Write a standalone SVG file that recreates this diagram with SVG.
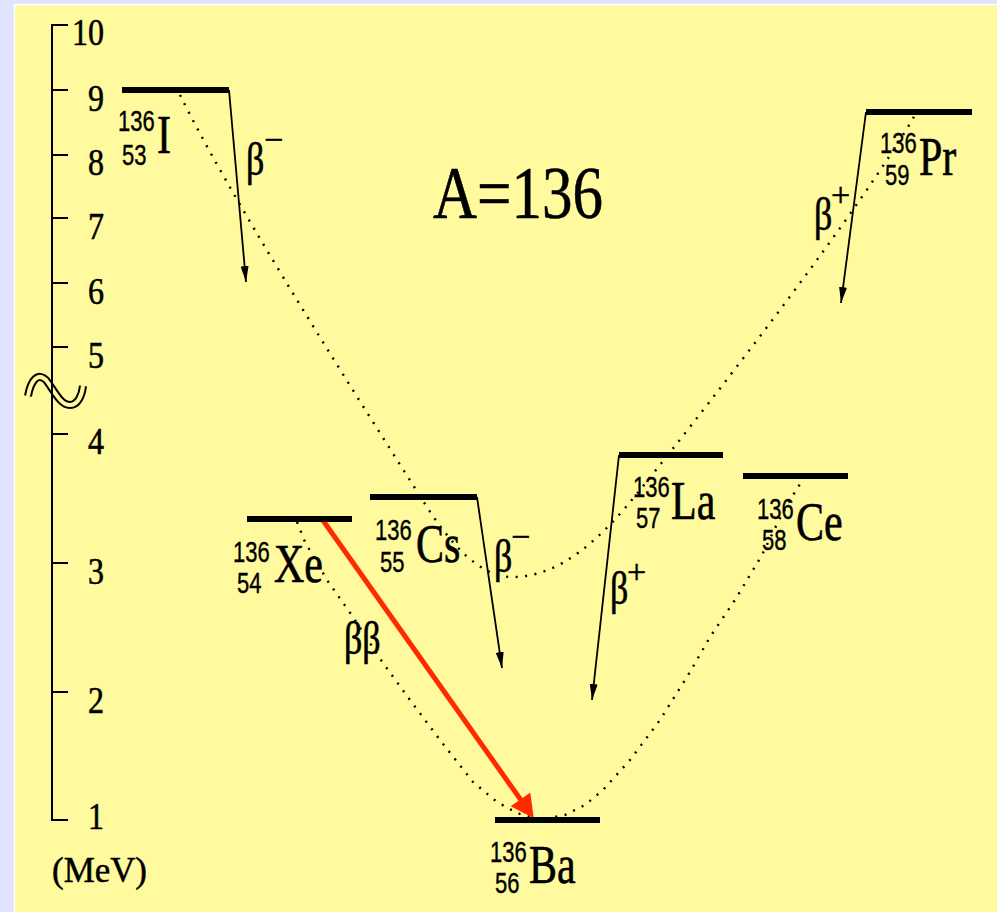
<svg xmlns="http://www.w3.org/2000/svg" width="997" height="912" viewBox="0 0 997 912">
<style>
.serif{font-family:"Liberation Serif","Times New Roman",serif;fill:#000;stroke:#000;stroke-width:0.5}
.ax{font-size:32px}
.el{font-size:42px}
.num{font-family:"Liberation Sans",Arial,sans-serif;font-size:22px;fill:#000;stroke:#000;stroke-width:0.3}
.beta{font-size:36px}
.sup{font-size:34px}
.lvl{stroke:#000;stroke-width:6;fill:none}
.tr{stroke:#000;stroke-width:1.8;fill:none;marker-end:url(#ah)}
.dot{stroke:#000;stroke-width:2.4;fill:none;stroke-dasharray:2 7.5}
.axis{stroke:#000;stroke-width:2;fill:none}
</style>
<defs>
<marker id="ah" viewBox="0 0 16 8" refX="16" refY="4" markerWidth="16" markerHeight="8" markerUnits="userSpaceOnUse" orient="auto">
<path d="M0,0 L16,4 L0,8 z" fill="#000"/>
</marker>
<marker id="rh" viewBox="-14 -12 25 24" refX="0" refY="0" markerWidth="25" markerHeight="24" markerUnits="userSpaceOnUse" orient="auto">
<path d="M-13,-12 L10,0 L-13,12 z" fill="#FF2A00"/>
</marker>
</defs>
<rect x="0" y="0" width="997" height="912" fill="#E0E4FF"/>
<rect x="14.5" y="4.5" width="990" height="915" fill="#FFFA9E" stroke="#FFFFFF" stroke-width="1.5"/>

<g id="axis">
<path d="M28,396 C31,380 38,372 46,380 C54,390 60,405 70,405 C78,405 82,395 83,386" stroke="#000" stroke-width="8" fill="none"/>
<path d="M28,396 C31,380 38,372 46,380 C54,390 60,405 70,405 C78,405 82,395 83,386" stroke="#FFFA9E" stroke-width="4" fill="none"/>
<path class="axis" d="M68,25 H52 V820 H68 M52,90 H68 M52,155 H68 M52,218 H68 M52,283 H68 M52,347 H68 M52,434 H68 M52,563 H68 M52,692 H68"/>
<g class="serif ax" text-anchor="end">
<text transform="translate(104 45) scale(1 1.17)">10</text>
<text transform="translate(104 111) scale(1 1.17)">9</text>
<text transform="translate(104 175) scale(1 1.17)">8</text>
<text transform="translate(104 239) scale(1 1.17)">7</text>
<text transform="translate(104 304) scale(1 1.17)">6</text>
<text transform="translate(104 368) scale(1 1.17)">5</text>
<text transform="translate(104 454) scale(1 1.17)">4</text>
<text transform="translate(104 584) scale(1 1.17)">3</text>
<text transform="translate(104 713) scale(1 1.17)">2</text>
<text transform="translate(104 829) scale(1 1.17)">1</text>
</g>
<text class="serif" x="52" y="882" font-size="36" textLength="95" lengthAdjust="spacingAndGlyphs">(MeV)</text>
</g>

<text id="title" class="serif" font-size="61" transform="translate(433 218) scale(1 1.22)">A=136</text>

<g id="connectors">
<path class="dot" d="M180,95 C228,192 330,355 420,496 C450,545 480,577 512,577 C560,577 600,540 640,490 C720,390 860,210 915,115"/>
<polyline class="dot" points="297,522 305,542 327,580 353,617 383,663 410,700 440,740 473,782 497,802 517,813 540,820 565,815 585,805 603,790 630,760 660,720 690,672 710,637 735,600 762,555 778,522 790,500 805,476"/>
<line class="tr" x1="229" y1="90" x2="246" y2="282"/>
<line class="tr" x1="477" y1="497" x2="502" y2="668"/>
<line class="tr" x1="619" y1="455" x2="592" y2="700"/>
<line class="tr" x1="866" y1="112" x2="841" y2="303"/>
<line x1="322" y1="519" x2="528" y2="810" stroke="#FF2A00" stroke-width="5" marker-end="url(#rh)"/>
<g class="serif beta">
<text transform="translate(246 175) scale(1 1.3)">β</text>
<text transform="translate(494 572) scale(1 1.3)">β</text>
<text transform="translate(610 604) scale(1 1.3)">β</text>
<text transform="translate(814 230) scale(1 1.3)">β</text>
<text transform="translate(344 654) scale(1 1.3)">ββ</text>
</g>
<g class="serif sup">
<text x="264" y="151">−</text>
<text x="511" y="548">−</text>
<text x="627" y="583">+</text>
<text x="831" y="206">+</text>
</g>
</g>

<g id="I136">
<line class="lvl" x1="122" y1="90" x2="229" y2="90"/>
<text class="num" transform="translate(118 131) scale(1 1.3)">136</text>
<text class="num" transform="translate(122 165) scale(1 1.3)">53</text>
<text class="serif el" transform="translate(157 153) scale(1 1.3)">I</text>
</g>
<g id="Xe136">
<line class="lvl" x1="247" y1="519" x2="352" y2="519"/>
<text class="num" transform="translate(233 562) scale(1 1.3)">136</text>
<text class="num" transform="translate(237 593) scale(1 1.3)">54</text>
<text class="serif el" transform="translate(274 582) scale(1 1.3)">Xe</text>
</g>
<g id="Cs136">
<line class="lvl" x1="370" y1="497" x2="477" y2="497"/>
<text class="num" transform="translate(375 540) scale(1 1.3)">136</text>
<text class="num" transform="translate(380 572) scale(1 1.3)">55</text>
<text class="serif el" transform="translate(416 562) scale(1 1.3)">Cs</text>
</g>
<g id="La136">
<line class="lvl" x1="619" y1="455" x2="723" y2="455"/>
<text class="num" transform="translate(633 497) scale(1 1.3)">136</text>
<text class="num" transform="translate(636 528) scale(1 1.3)">57</text>
<text class="serif el" transform="translate(671 519) scale(1 1.3)">La</text>
</g>
<g id="Ce136">
<line class="lvl" x1="743" y1="476" x2="848" y2="476"/>
<text class="num" transform="translate(757 519) scale(1 1.3)">136</text>
<text class="num" transform="translate(762 550) scale(1 1.3)">58</text>
<text class="serif el" transform="translate(796 540) scale(1 1.3)">Ce</text>
</g>
<g id="Pr136">
<line class="lvl" x1="866" y1="112" x2="972" y2="112"/>
<text class="num" transform="translate(880 153) scale(1 1.3)">136</text>
<text class="num" transform="translate(885 185) scale(1 1.3)">59</text>
<text class="serif el" transform="translate(919 175) scale(1 1.3)">Pr</text>
</g>
<g id="Ba136">
<line class="lvl" x1="495" y1="820" x2="600" y2="820"/>
<text class="num" transform="translate(490 862) scale(1 1.3)">136</text>
<text class="num" transform="translate(495 893) scale(1 1.3)">56</text>
<text class="serif el" transform="translate(529 883) scale(1 1.3)">Ba</text>
</g>
</svg>
